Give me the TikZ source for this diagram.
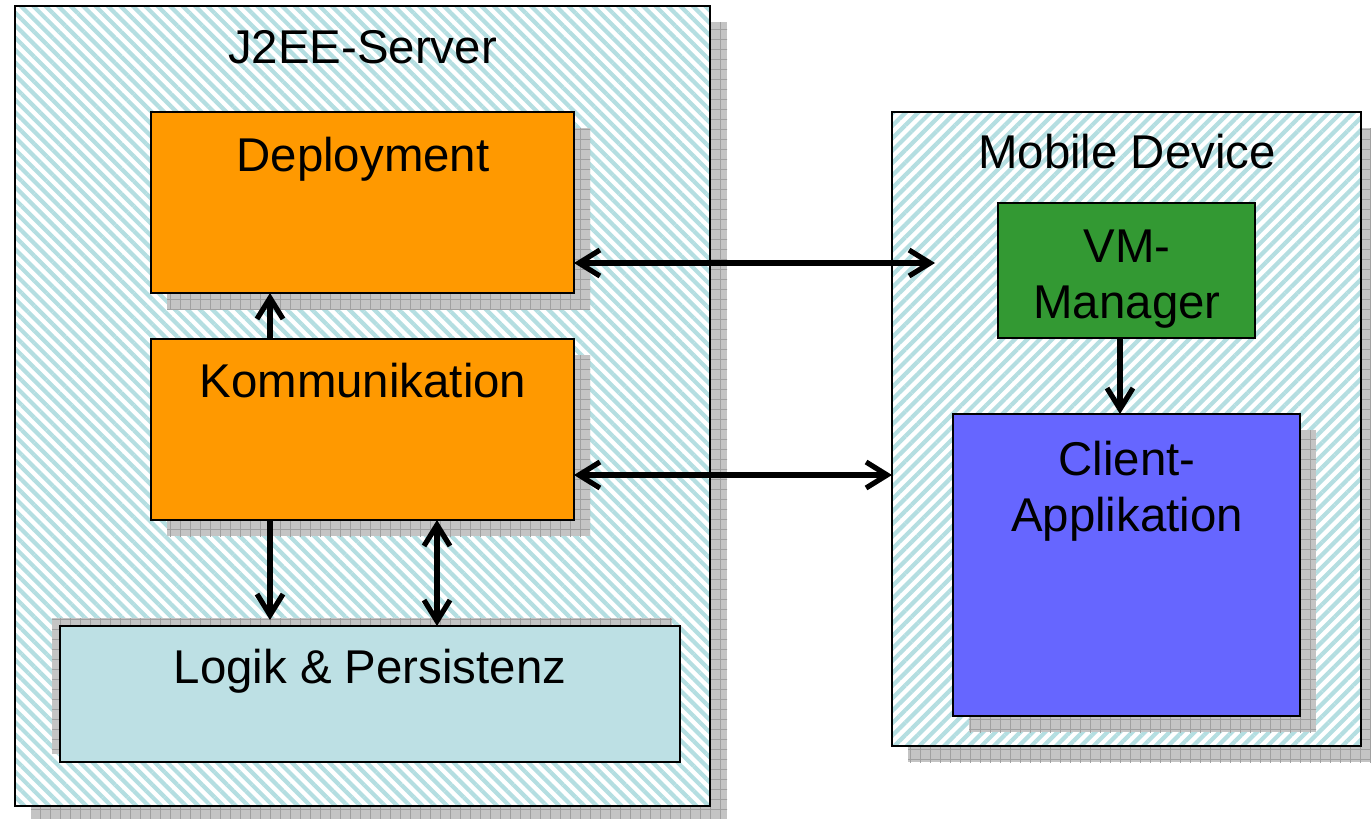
\documentclass[tikz,border=0pt]{standalone}
\usepackage{fontspec}
\setmainfont{Liberation Sans}
\usetikzlibrary{arrows.meta,patterns.meta}
\definecolor{hatchc}{RGB}{180,222,225}
\definecolor{orangec}{RGB}{255,153,0}
\definecolor{greenc}{RGB}{51,153,51}
\definecolor{bluec}{RGB}{102,102,255}
\definecolor{tealc}{RGB}{189,224,228}
\definecolor{shadowc}{RGB}{196,196,196}
\definecolor{gridc}{RGB}{160,160,160}
\tikzset{
  box/.style={draw=black, line width=1pt, inner sep=0pt, outer sep=0pt},
  hatchL/.style={box, preaction={fill=white}, pattern={Lines[angle=-45,distance=4.4pt,line width=2.1pt]}, pattern color=hatchc},
  hatchR/.style={box, preaction={fill=white}, pattern={Lines[angle=45,distance=4.4pt,line width=2.1pt]}, pattern color=hatchc},
  shad/.style={fill=shadowc, postaction={pattern={Lines[angle=0,distance=5pt,line width=0.4pt]}, pattern color=gridc}, postaction={pattern={Lines[angle=90,distance=5pt,line width=0.4pt]}, pattern color=gridc}},
  lbl/.style={anchor=base, inner sep=0pt, font=\fontsize{23.7}{28}\selectfont},
  tip/.tip={Straight Barb[length=10.5pt,width=13pt,line width=2.6pt]},
  arr/.style={line width=2.6pt, -tip},
  biarr/.style={line width=2.6pt, tip-tip},
}
\begin{document}
\begin{tikzpicture}[x=0.5pt,y=-0.5pt]
\useasboundingbox (0,0) rectangle (1371,819);
% J2EE server
\fill[shad] (31,22) rectangle (727,821);
\node[hatchL, minimum width=347.5pt, minimum height=400pt] (srv) at (362.5,406) {};
\node[lbl] (srvt) at (362.5,63) {J2EE-Server};
% Mobile device
\fill[shad] (908,128) rectangle (1377,762);
\node[hatchR, minimum width=234.5pt, minimum height=317pt] (mob) at (1126.5,429) {};
\node[lbl] (mobt) at (1127,168) {Mobile Device};
% Deployment
\fill[shad] (167,128) rectangle (590,309);
\node[box, fill=orangec, minimum width=211.5pt, minimum height=90.5pt] (dep) at (362.5,202.5) {};
\node[lbl] (dept) at (363,171) {Deployment};
% Kommunikation
\fill[shad] (167,355) rectangle (590,536);
\node[box, fill=orangec, minimum width=211.5pt, minimum height=90.5pt] (kom) at (362.5,429.5) {};
\node[lbl] (komt) at (363,397) {Kommunikation};
% Logik & Persistenz
\fill[shad] (52,618) rectangle (672,754);
\node[box, fill=tealc, minimum width=310pt, minimum height=68pt] (log) at (370,694) {};
\node[lbl] (logt) at (370,683) {Logik \& Persistenz};
% VM-Manager
\node[box, fill=greenc, minimum width=128.5pt, minimum height=67.5pt] (vm) at (1126.5,270.5) {};
\node[lbl] (vmt1) at (1127,262) {VM-};
\node[lbl] (vmt2) at (1127,318) {Manager};
% Client-Applikation
\fill[shad] (969,430) rectangle (1316,732);
\node[box, fill=bluec, minimum width=173.5pt, minimum height=151pt] (cli) at (1126.5,565) {};
\node[lbl] (clit1) at (1127,475) {Client-};
\node[lbl] (clit2) at (1127,531) {Applikation};
% connectors
\coordinate (a1) at (935,263);
\coordinate (y2) at (0,475);
\coordinate (x1) at (270,0);
\coordinate (x2) at (437,0);
\coordinate (x3) at (1120,0);
\draw[biarr] (dep.east |- a1) -- (a1);
\draw[biarr] (kom.east |- y2) -- (mob.west |- y2);
\draw[arr] (kom.north -| x1) -- (dep.south -| x1);
\draw[arr] (kom.south -| x1) -- ([yshift=3pt]log.north -| x1);
\draw[biarr] (kom.south -| x2) -- (log.north -| x2);
\draw[arr] (vm.south -| x3) -- (cli.north -| x3);
\end{tikzpicture}
\end{document}
